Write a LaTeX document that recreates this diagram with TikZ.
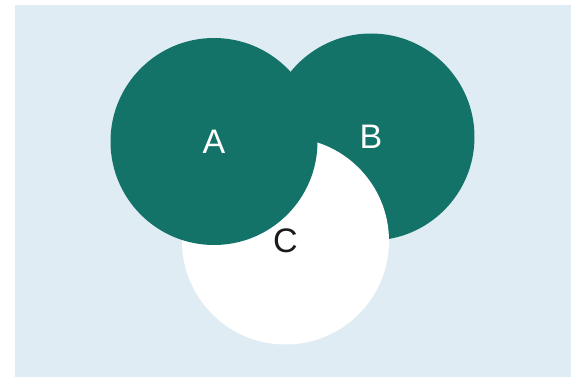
\documentclass[tikz,border=0pt]{standalone}
\usepackage{fontspec}
\setmainfont{Liberation Sans}
\definecolor{vteal}{HTML}{137368}
\definecolor{vback}{HTML}{DFECF4}
\definecolor{vink}{HTML}{1A1A1A}

\begin{document}
\begin{tikzpicture}[x=1pt,y=-1pt,
  setbox/.style={circle,inner sep=0pt,minimum size=207pt,font=\fontsize{34}{34}\selectfont},
  greenset/.style={setbox,fill=vteal,text=white},
  whiteset/.style={setbox,fill=white,text=vink}]
  % margins and background
  \useasboundingbox (0,0) rectangle (571,377);
  \fill[vback] (15,5) rectangle (571,377);
  % the three sets (C lies over B, A lies over C)
  \node[greenset] (B) at (371,137) {B};
  \node[whiteset] (C) at (285.5,241) {C};
  \node[greenset] (A) at (214,141.5) {A};
\end{tikzpicture}
\end{document}
